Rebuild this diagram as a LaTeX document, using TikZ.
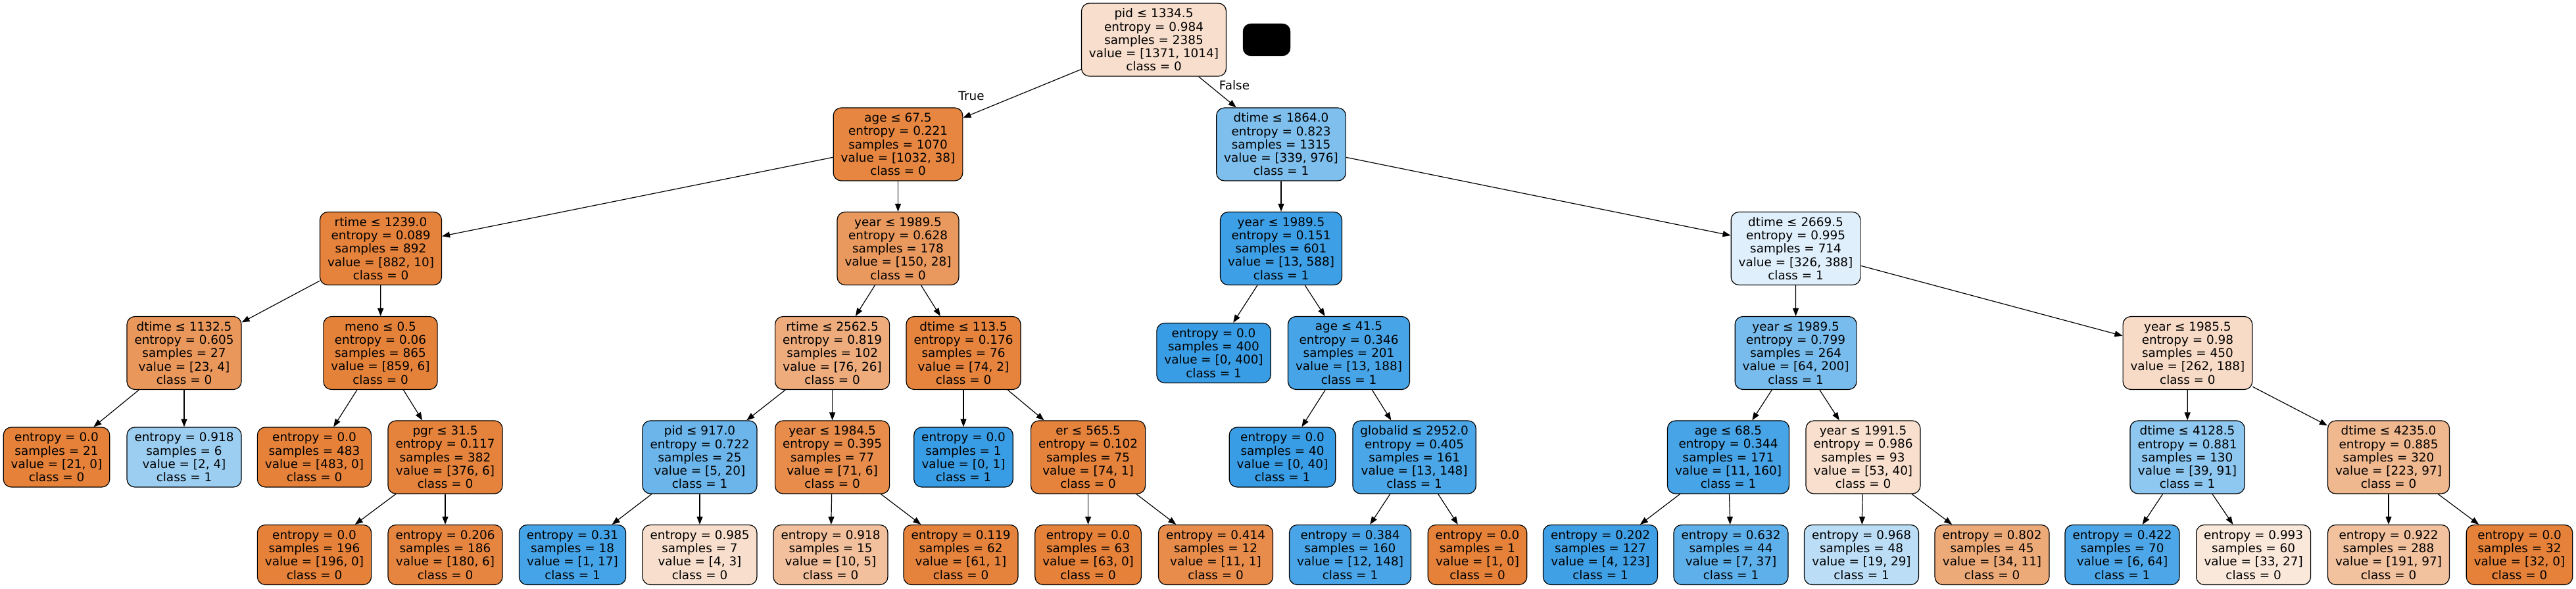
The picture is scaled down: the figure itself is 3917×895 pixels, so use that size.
\documentclass[tikz,border=0pt]{standalone}
\usepackage{fontspec}
\setmainfont{DejaVu Sans}
\usetikzlibrary{arrows.meta}
\definecolor{cO}{RGB}{229,129,57}
\definecolor{cB}{RGB}{57,157,229}
\tikzset{
  tn/.style={draw=black, line width=1.2pt, rounded corners=12pt, align=center,
    inner xsep=11.5pt, inner ysep=0pt, font=\fontsize{18.4}{20.3}\selectfont},
  sp/.style={tn, minimum height=111pt},
  lf/.style={tn, minimum height=91pt},
  conn/.style={-{Triangle[length=12pt,width=9pt]}, line width=1.2pt},
  elab/.style={font=\fontsize{18.4}{20.3}\selectfont, inner sep=0pt}
}
\begin{document}
\begin{tikzpicture}[x=1pt,y=1pt]
\fill[white] (0,0) rectangle (3917,895);
\useasboundingbox (0,0) rectangle (3917,895);
% level 0
\node[sp, fill=cO!26!white] (n0) at (1754.5,834.5) {pid ≤ 1334.5\\entropy = 0.984\\samples = 2385\\value = [1371, 1014]\\class = 0};
\node[draw=black, fill=black, rounded corners=12pt, minimum width=72pt, minimum height=49pt, inner sep=0pt] (blk) at (1926,834.5) {};
% level 1
\node[sp, fill=cO!96.3!white] (n1) at (1365.5,675.5) {age ≤ 67.5\\entropy = 0.221\\samples = 1070\\value = [1032, 38]\\class = 0};
\node[sp, fill=cB!65.3!white] (n2) at (1948,675.5) {dtime ≤ 1864.0\\entropy = 0.823\\samples = 1315\\value = [339, 976]\\class = 1};
% level 2
\node[sp, fill=cO!98.9!white] (n3) at (579,517) {rtime ≤ 1239.0\\entropy = 0.089\\samples = 892\\value = [882, 10]\\class = 0};
\node[sp, fill=cO!81.3!white] (n4) at (1365.5,517) {year ≤ 1989.5\\entropy = 0.628\\samples = 178\\value = [150, 28]\\class = 0};
\node[sp, fill=cB!97.8!white] (n5) at (1948,517) {year ≤ 1989.5\\entropy = 0.151\\samples = 601\\value = [13, 588]\\class = 1};
\node[sp, fill=cB!16!white] (n6) at (2730.5,517) {dtime ≤ 2669.5\\entropy = 0.995\\samples = 714\\value = [326, 388]\\class = 1};
% level 3
\node[sp, fill=cO!82.6!white] (n7) at (280,358) {dtime ≤ 1132.5\\entropy = 0.605\\samples = 27\\value = [23, 4]\\class = 0};
\node[sp, fill=cO!99.3!white] (n8) at (578.5,358) {meno ≤ 0.5\\entropy = 0.06\\samples = 865\\value = [859, 6]\\class = 0};
\node[sp, fill=cO!65.8!white] (n9) at (1265.6,358) {rtime ≤ 2562.5\\entropy = 0.819\\samples = 102\\value = [76, 26]\\class = 0};
\node[sp, fill=cO!97.3!white] (n10) at (1465,358) {dtime ≤ 113.5\\entropy = 0.176\\samples = 76\\value = [74, 2]\\class = 0};
\node[lf, fill=cB] (n11) at (1845.5,358) {entropy = 0.0\\samples = 400\\value = [0, 400]\\class = 1};
\node[sp, fill=cB!93.1!white] (n12) at (2051,358) {age ≤ 41.5\\entropy = 0.346\\samples = 201\\value = [13, 188]\\class = 1};
\node[sp, fill=cB!68!white] (n13) at (2730.6,358) {year ≤ 1989.5\\entropy = 0.799\\samples = 264\\value = [64, 200]\\class = 1};
\node[sp, fill=cO!28.2!white] (n14) at (3326.4,358) {year ≤ 1985.5\\entropy = 0.98\\samples = 450\\value = [262, 188]\\class = 0};
% level 4
\node[lf, fill=cO] (n15) at (86,199.5) {entropy = 0.0\\samples = 21\\value = [21, 0]\\class = 0};
\node[lf, fill=cB!50!white] (n16) at (280,199.5) {entropy = 0.918\\samples = 6\\value = [2, 4]\\class = 1};
\node[lf, fill=cO] (n17) at (478,199.5) {entropy = 0.0\\samples = 483\\value = [483, 0]\\class = 0};
\node[sp, fill=cO!98.4!white] (n18) at (677,199.5) {pgr ≤ 31.5\\entropy = 0.117\\samples = 382\\value = [376, 6]\\class = 0};
\node[sp, fill=cB!75!white] (n19) at (1064,199.5) {pid ≤ 917.0\\entropy = 0.722\\samples = 25\\value = [5, 20]\\class = 1};
\node[sp, fill=cO!91.5!white] (n20) at (1265.6,199.5) {year ≤ 1984.5\\entropy = 0.395\\samples = 77\\value = [71, 6]\\class = 0};
\node[lf, fill=cB] (n21) at (1465,199.5) {entropy = 0.0\\samples = 1\\value = [0, 1]\\class = 1};
\node[sp, fill=cO!98.6!white] (n22) at (1654.6,199.5) {er ≤ 565.5\\entropy = 0.102\\samples = 75\\value = [74, 1]\\class = 0};
\node[lf, fill=cB] (n23) at (1950,199.5) {entropy = 0.0\\samples = 40\\value = [0, 40]\\class = 1};
\node[sp, fill=cB!91.2!white] (n24) at (2150.6,199.5) {globalid ≤ 2952.0\\entropy = 0.405\\samples = 161\\value = [13, 148]\\class = 1};
\node[sp, fill=cB!93.1!white] (n25) at (2628,199.5) {age ≤ 68.5\\entropy = 0.344\\samples = 171\\value = [11, 160]\\class = 1};
\node[sp, fill=cO!24.5!white] (n26) at (2833,199.5) {year ≤ 1991.5\\entropy = 0.986\\samples = 93\\value = [53, 40]\\class = 0};
\node[sp, fill=cB!57.1!white] (n27) at (3326,199.5) {dtime ≤ 4128.5\\entropy = 0.881\\samples = 130\\value = [39, 91]\\class = 1};
\node[sp, fill=cO!56.5!white] (n28) at (3632,199.5) {dtime ≤ 4235.0\\entropy = 0.885\\samples = 320\\value = [223, 97]\\class = 0};
% level 5
\node[lf, fill=cO] (n29) at (478,51) {entropy = 0.0\\samples = 196\\value = [196, 0]\\class = 0};
\node[lf, fill=cO!96.7!white] (n30) at (677,51) {entropy = 0.206\\samples = 186\\value = [180, 6]\\class = 0};
\node[lf, fill=cB!94.1!white] (n31) at (870.5,51) {entropy = 0.31\\samples = 18\\value = [1, 17]\\class = 1};
\node[lf, fill=cO!25!white] (n32) at (1064,51) {entropy = 0.985\\samples = 7\\value = [4, 3]\\class = 0};
\node[lf, fill=cO!50!white] (n33) at (1263,51) {entropy = 0.918\\samples = 15\\value = [10, 5]\\class = 0};
\node[lf, fill=cO!98.4!white] (n34) at (1461,51) {entropy = 0.119\\samples = 62\\value = [61, 1]\\class = 0};
\node[lf, fill=cO] (n35) at (1654.6,51) {entropy = 0.0\\samples = 63\\value = [63, 0]\\class = 0};
\node[lf, fill=cO!90.9!white] (n36) at (1848.5,51) {entropy = 0.414\\samples = 12\\value = [11, 1]\\class = 0};
\node[lf, fill=cB!91.9!white] (n37) at (2053,51) {entropy = 0.384\\samples = 160\\value = [12, 148]\\class = 1};
\node[lf, fill=cO] (n38) at (2246.5,51) {entropy = 0.0\\samples = 1\\value = [1, 0]\\class = 0};
\node[lf, fill=cB!96.7!white] (n39) at (2433.5,51) {entropy = 0.202\\samples = 127\\value = [4, 123]\\class = 1};
\node[lf, fill=cB!81.1!white] (n40) at (2632,51) {entropy = 0.632\\samples = 44\\value = [7, 37]\\class = 1};
\node[lf, fill=cB!34.5!white] (n41) at (2830.5,51) {entropy = 0.968\\samples = 48\\value = [19, 29]\\class = 1};
\node[lf, fill=cO!67.6!white] (n42) at (3029,51) {entropy = 0.802\\samples = 45\\value = [34, 11]\\class = 0};
\node[lf, fill=cB!90.6!white] (n43) at (3227,51) {entropy = 0.422\\samples = 70\\value = [6, 64]\\class = 1};
\node[lf, fill=cO!18.2!white] (n44) at (3426.6,51) {entropy = 0.993\\samples = 60\\value = [33, 27]\\class = 0};
\node[lf, fill=cO!49.2!white] (n45) at (3632,51) {entropy = 0.922\\samples = 288\\value = [191, 97]\\class = 0};
\node[lf, fill=cO] (n46) at (3831,51) {entropy = 0.0\\samples = 32\\value = [32, 0]\\class = 0};
% edge labels
\node[elab] (lT) at (1477,749) {True};
\node[elab] (lF) at (1877,765) {False};
% connectors
\draw[conn] (n0) -- (n1);
\draw[conn] (n0) -- (n2);
\draw[conn] (n1) -- (n3);
\draw[conn] (n1) -- (n4);
\draw[conn] (n2) -- (n5);
\draw[conn] (n2) -- (n6);
\draw[conn] (n3) -- (n7);
\draw[conn] (n3) -- (n8);
\draw[conn] (n4) -- (n9);
\draw[conn] (n4) -- (n10);
\draw[conn] (n5) -- (n11);
\draw[conn] (n5) -- (n12);
\draw[conn] (n6) -- (n13);
\draw[conn] (n6) -- (n14);
\draw[conn] (n7) -- (n15);
\draw[conn] (n7) -- (n16);
\draw[conn] (n8) -- (n17);
\draw[conn] (n8) -- (n18);
\draw[conn] (n9) -- (n19);
\draw[conn] (n9) -- (n20);
\draw[conn] (n10) -- (n21);
\draw[conn] (n10) -- (n22);
\draw[conn] (n12) -- (n23);
\draw[conn] (n12) -- (n24);
\draw[conn] (n13) -- (n25);
\draw[conn] (n13) -- (n26);
\draw[conn] (n14) -- (n27);
\draw[conn] (n14) -- (n28);
\draw[conn] (n18) -- (n29);
\draw[conn] (n18) -- (n30);
\draw[conn] (n19) -- (n31);
\draw[conn] (n19) -- (n32);
\draw[conn] (n20) -- (n33);
\draw[conn] (n20) -- (n34);
\draw[conn] (n22) -- (n35);
\draw[conn] (n22) -- (n36);
\draw[conn] (n24) -- (n37);
\draw[conn] (n24) -- (n38);
\draw[conn] (n25) -- (n39);
\draw[conn] (n25) -- (n40);
\draw[conn] (n26) -- (n41);
\draw[conn] (n26) -- (n42);
\draw[conn] (n27) -- (n43);
\draw[conn] (n27) -- (n44);
\draw[conn] (n28) -- (n45);
\draw[conn] (n28) -- (n46);
\end{tikzpicture}
\end{document}
